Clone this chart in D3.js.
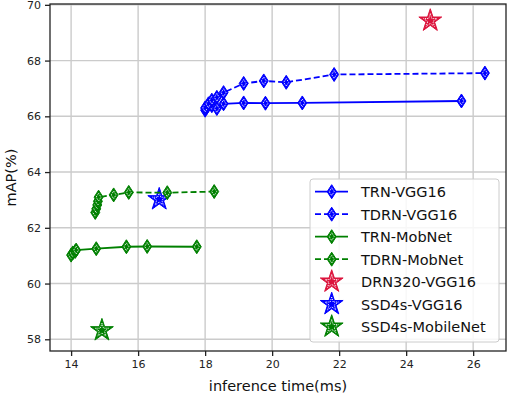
<!DOCTYPE html>
<html><head><meta charset="utf-8">
<script src="https://cdn.jsdelivr.net/npm/d3@7"></script>
<style>body{margin:0;background:#fff}svg{display:block;font-family:"DejaVu Sans",sans-serif}</style>
</head><body><svg id="c" width="508" height="394"></svg>
<script>
const xTicks = [14,16,18,20,22,24,26];
const yTicks = [58,60,62,64,66,68,70];
const trnVgg = [[18.0,66.22],[18.05,66.32],[18.2,66.38],[18.35,66.28],[18.55,66.45],[19.15,66.48],[19.8,66.47],[20.9,66.48],[25.65,66.55]];
const tdrnVgg = [[18.0,66.3],[18.1,66.45],[18.2,66.58],[18.35,66.68],[18.55,66.85],[19.15,67.18],[19.75,67.27],[20.42,67.22],[21.85,67.5],[26.35,67.55]];
const trnMob = [[14.0,61.02],[14.05,61.1],[14.12,61.15],[14.15,61.2],[14.75,61.25],[15.65,61.32],[16.27,61.33],[17.75,61.32]];
const tdrnMob = [[14.72,62.55],[14.75,62.68],[14.78,62.82],[14.8,62.95],[14.82,63.1],[15.27,63.18],[15.72,63.27],[16.87,63.26],[18.27,63.3]];
const drn320 = [[24.72,69.43]];
const ssdVgg = [[16.63,63.02]];
const ssdMob = [[14.92,58.32]];
const lineSeries = [
  {name:"TRN-VGG16", data:trnVgg, color:"#0000ff", dash:null},
  {name:"TDRN-VGG16", data:tdrnVgg, color:"#0000ff", dash:"6,3"},
  {name:"TRN-MobNet", data:trnMob, color:"#008000", dash:null},
  {name:"TDRN-MobNet", data:tdrnMob, color:"#008000", dash:"6,3"}
];
const starSeries = [
  {name:"DRN320-VGG16", data:drn320, color:"#dc143c"},
  {name:"SSD4s-VGG16", data:ssdVgg, color:"#0000ff"},
  {name:"SSD4s-MobileNet", data:ssdMob, color:"#008000"}
];

const L=50,R=506,T=4,B=351;
const svg=d3.select("#c");
const x=d3.scaleLinear().domain([13.37,26.98]).range([L,R]);
const y=d3.scaleLinear().domain([57.58,70.03]).range([B,T]);

// grid
const g=svg.append("g");
g.selectAll(".gx").data(xTicks).join("line").attr("x1",d=>x(d)).attr("x2",d=>x(d)).attr("y1",T).attr("y2",B).attr("stroke","#cbcbcb").attr("stroke-width",1.4);
g.selectAll(".gy").data(yTicks).join("line").attr("y1",d=>y(d)).attr("y2",d=>y(d)).attr("x1",L).attr("x2",R).attr("stroke","#cbcbcb").attr("stroke-width",1.4);

function diamond(s){return `M0,${-7*s}L${4.5*s},0L0,${7*s}L${-4.5*s},0Z`;}
function star(r){const ri=r*0.381;let p=[];for(let i=0;i<10;i++){const a=-Math.PI/2+i*Math.PI/5;const rr=i%2?ri:r;p.push([rr*Math.cos(a),rr*Math.sin(a)]);}return "M"+p.map(q=>q.join(",")).join("L")+"Z";}
function drawMarker(sel,type,color){
  if(type==="d"){
    sel.append("path").attr("d",diamond(1)).attr("fill",color).attr("stroke",color).attr("stroke-width",1);
    sel.append("path").attr("d",diamond(0.55)).attr("fill","none").attr("stroke","#fff").attr("stroke-width",1).attr("stroke-dasharray","1,1");
  } else {
    sel.append("path").attr("d",star(12)).attr("fill",color).attr("stroke",color).attr("stroke-width",1);
    sel.append("path").attr("d",star(7)).attr("fill","none").attr("stroke","#fff").attr("stroke-width",1).attr("stroke-dasharray","1,1");
  }
}

// stars
starSeries.forEach(s=>{
  s.data.forEach(d=>{const m=svg.append("g").attr("transform",`translate(${x(d[0])},${y(d[1])})`);drawMarker(m,"s",s.color);});
});
// lines
const line=d3.line().x(d=>x(d[0])).y(d=>y(d[1]));
lineSeries.forEach(s=>{
  svg.append("path").datum(s.data).attr("d",line).attr("fill","none").attr("stroke",s.color).attr("stroke-width",1.8).attr("stroke-dasharray",s.dash);
  s.data.forEach(d=>{const m=svg.append("g").attr("transform",`translate(${x(d[0])},${y(d[1])})`);drawMarker(m,"d",s.color);});
});

// axes
const xa=svg.append("g").attr("transform",`translate(0,${B})`).call(d3.axisBottom(x).tickValues(xTicks).tickSize(5).tickPadding(4));
const ya=svg.append("g").attr("transform",`translate(${L},0)`).call(d3.axisLeft(y).tickValues(yTicks).tickSize(5).tickPadding(4));
[xa,ya].forEach(a=>{a.select(".domain").remove();a.selectAll("line").attr("stroke","#222").attr("stroke-width",1.3);a.selectAll("text").attr("font-size",11).attr("fill","#222").attr("font-family","DejaVu Sans");});
svg.append("rect").attr("x",L).attr("y",T).attr("width",R-L).attr("height",B-T).attr("fill","none").attr("stroke","#222").attr("stroke-width",1.3);

svg.append("text").attr("x",(L+R)/2).attr("y",391).attr("text-anchor","middle").attr("font-size",14.5).attr("fill","#111").text("inference time(ms)");
svg.append("text").attr("transform",`translate(16,${(T+B)/2}) rotate(-90)`).attr("text-anchor","middle").attr("font-size",14.5).attr("fill","#111").text("mAP(%)");

// legend
const lg=svg.append("g");
lg.append("rect").attr("x",310).attr("y",179).attr("width",189).attr("height",163).attr("rx",3).attr("fill","#fff").attr("fill-opacity",0.85).attr("stroke","#cccccc").attr("stroke-width",1);
const items=lineSeries.map(s=>({name:s.name,color:s.color,dash:s.dash,type:"d"})).concat(starSeries.map(s=>({name:s.name,color:s.color,type:"s"})));
items.forEach((it,i)=>{
  const cy=191.7+i*22.5;
  if(it.type==="d") lg.append("line").attr("x1",315).attr("x2",348).attr("y1",cy).attr("y2",cy).attr("stroke",it.color).attr("stroke-width",1.8).attr("stroke-dasharray",it.dash);
  const m=lg.append("g").attr("transform",`translate(331.7,${cy})`);drawMarker(m,it.type,it.color);
  lg.append("text").attr("x",361).attr("y",cy+5.5).attr("font-size",14.5).attr("fill","#111").text(it.name);
});
</script></body></html>
